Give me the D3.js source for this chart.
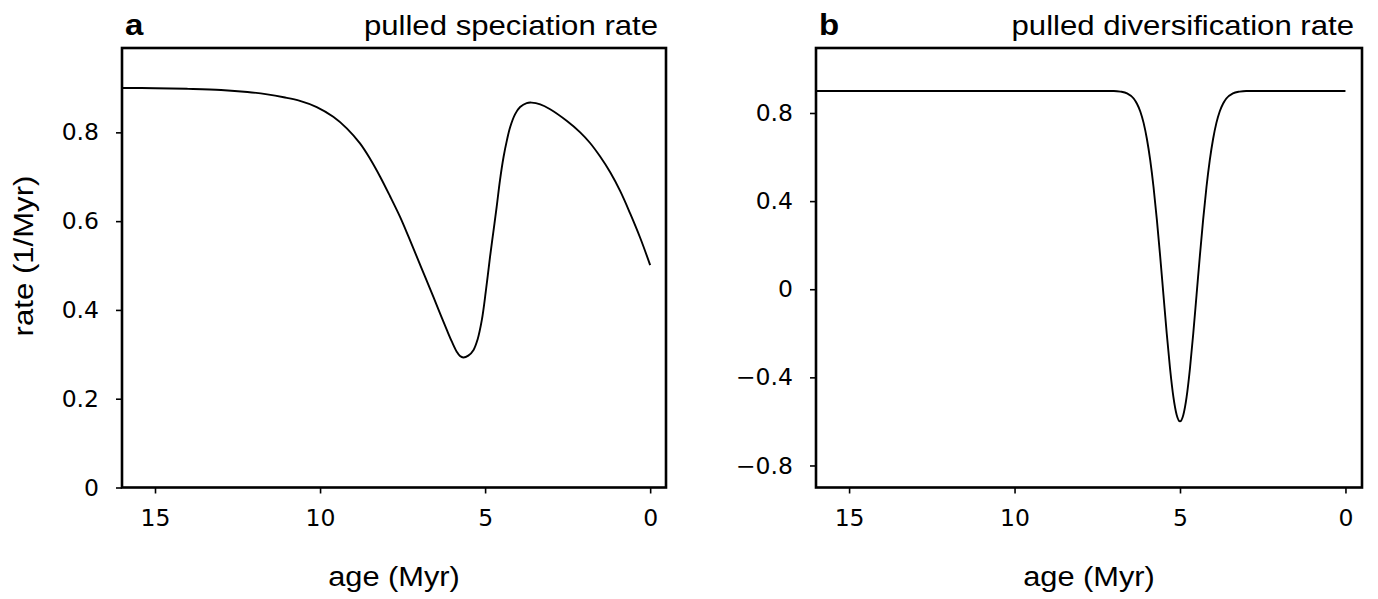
<!DOCTYPE html>
<html>
<head>
<meta charset="utf-8">
<script src="https://cdn.jsdelivr.net/npm/d3@7"></script>
<style>
  html, body { margin: 0; padding: 0; background: #fff; }
  svg { display: block; }
</style>
</head>
<body>
<svg id="chart" width="1378" height="599"></svg>
<script>
// ---------- data ----------
const xTicks = [15, 10, 5, 0];
const xTickLabels = ["15", "10", "5", "0"];

const yTicksA = [0, 0.2, 0.4, 0.6, 0.8];
const yTickLabelsA = ["0", "0.2", "0.4", "0.6", "0.8"];
const yTicksB = [-0.8, -0.4, 0, 0.4, 0.8];
const yTickLabelsB = ["\u22120.8", "\u22120.4", "0", "0.4", "0.8"];

// panel a: pulled speciation rate (age in Myr, rate in 1/Myr)
const ageA = [16, 15, 14, 13, 12.2, 11.6, 11.1, 10.61, 10.10, 9.60, 9.19, 8.79, 8.49, 8.18, 7.88, 7.58,
              7.32, 7.07, 6.82, 6.57, 6.36, 6.16, 6.01, 5.86, 5.76, 5.66, 5.51, 5.35, 5.23, 5.10, 4.98,
              4.85, 4.75, 4.65, 4.55, 4.44, 4.34, 4.24, 4.09, 3.94, 3.74, 3.59, 3.33, 3.03, 2.53, 2.12,
              1.82, 1.52, 1.21, 0.91, 0.61, 0.30, 0];
const rateA = [0.900, 0.8995, 0.898, 0.8955, 0.891, 0.8855, 0.879, 0.871, 0.857, 0.835, 0.809, 0.775,
               0.741, 0.700, 0.656, 0.610, 0.565, 0.520, 0.475, 0.430, 0.391, 0.355, 0.329, 0.306, 0.296,
               0.293, 0.297, 0.310, 0.333, 0.377, 0.441, 0.520, 0.576, 0.632, 0.692, 0.745, 0.782, 0.812,
               0.841, 0.857, 0.866, 0.867, 0.863, 0.852, 0.826, 0.800, 0.776, 0.746, 0.710, 0.668,
               0.618, 0.562, 0.501];

// panel b: pulled diversification rate
const ageB = [16, 8, 7.0, 6.8, 6.6, 6.4, 6.3, 6.2, 6.1, 6.0, 5.9, 5.8, 5.7, 5.6, 5.5, 5.4, 5.3, 5.2, 5.1,
              5.0, 4.9, 4.8, 4.7, 4.6, 4.5, 4.4, 4.3, 4.2, 4.1, 4.0, 3.9, 3.8, 3.7, 3.6, 3.4, 3.2, 3.0, 0];
const rateB = [0.900, 0.900, 0.900, 0.897, 0.889, 0.866, 0.842, 0.807, 0.755, 0.682, 0.586, 0.464, 0.317,
               0.151, -0.026, -0.202, -0.361, -0.489, -0.571, -0.600, -0.571, -0.489, -0.361, -0.202,
               -0.026, 0.151, 0.317, 0.464, 0.586, 0.682, 0.755, 0.807, 0.842, 0.866, 0.889, 0.897, 0.900, 0.900];

// ---------- drawing ----------
const svg = d3.select("#chart");
const TICK_FONT = "'DejaVu Sans', sans-serif";
const LABEL_FONT = "'Liberation Sans', Arial, sans-serif";

const panels = [
  { left: 122, right: 666, xDomain: [16, -0.48], yDomain: [0, 0.99],
    yTicks: yTicksA, yLabels: yTickLabelsA, ages: ageA, rates: rateA,
    curve: d3.curveCatmullRom.alpha(0.5),
    letter: "a", title: "pulled speciation rate", ylabel: "rate (1/Myr)" },
  { left: 816, right: 1362, xDomain: [16, -0.5], yDomain: [-0.9, 1.095],
    yTicks: yTicksB, yLabels: yTickLabelsB, ages: ageB, rates: rateB,
    curve: d3.curveMonotoneX,
    letter: "b", title: "pulled diversification rate", ylabel: null }
];
const plotTop = 48, plotBottom = 487.5;

function stretchedText(g, x, y, txt, opts) {
  return g.append("text")
    .attr("transform", `translate(${x},${y}) scale(1.1,1)`)
    .attr("font-family", opts.family || LABEL_FONT)
    .attr("font-size", opts.size)
    .attr("font-weight", opts.weight || "normal")
    .attr("text-anchor", opts.anchor || "start")
    .attr("fill", "#000")
    .text(txt);
}

panels.forEach(p => {
  const x = d3.scaleLinear().domain(p.xDomain).range([p.left, p.right]);
  const y = d3.scaleLinear().domain(p.yDomain).range([plotBottom, plotTop]);
  const g = svg.append("g");

  // x axis
  const xAxis = d3.axisBottom(x).tickValues(xTicks)
    .tickFormat((d, i) => xTickLabels[i]).tickSizeInner(6).tickSizeOuter(0).tickPadding(16);
  const gx = g.append("g").attr("transform", `translate(0,${plotBottom})`).call(xAxis);
  gx.select(".domain").remove();
  gx.selectAll(".tick line").attr("stroke", "#000").attr("stroke-width", 1.6);
  gx.selectAll(".tick text").attr("font-family", TICK_FONT).attr("font-size", 23.5)
    .attr("fill", "#000");

  // y axis
  const yAxis = d3.axisLeft(y).tickValues(p.yTicks)
    .tickFormat((d, i) => p.yLabels[i]).tickSizeInner(6).tickSizeOuter(0).tickPadding(17);
  const gy = g.append("g").attr("transform", `translate(${p.left},0)`).call(yAxis);
  gy.select(".domain").remove();
  gy.selectAll(".tick line").attr("stroke", "#000").attr("stroke-width", 1.6);
  gy.selectAll(".tick text").attr("font-family", TICK_FONT).attr("font-size", 23.5)
    .attr("fill", "#000");

  // curve
  const pts = p.ages.map((a, i) => [a, p.rates[i]]);
  const line = d3.line().x(d => x(d[0])).y(d => y(d[1])).curve(p.curve);
  g.append("path").datum(pts).attr("d", line)
    .attr("fill", "none").attr("stroke", "#000").attr("stroke-width", 1.9);

  // frame
  g.append("rect").attr("x", p.left).attr("y", plotTop)
    .attr("width", p.right - p.left).attr("height", plotBottom - plotTop)
    .attr("fill", "none").attr("stroke", "#000").attr("stroke-width", 2.6);

  // labels
  stretchedText(g, p.left + 3, 35, p.letter, { size: 30, weight: "bold" });
  stretchedText(g, p.right - 8, 35, p.title, { size: 28.3, anchor: "end" });
  stretchedText(g, (p.left + p.right) / 2, 586, "age (Myr)", { size: 28, anchor: "middle" });
  if (p.ylabel) {
    svg.append("text")
      .attr("transform", `translate(33,256) rotate(-90) scale(1.1,1)`)
      .attr("font-family", LABEL_FONT).attr("font-size", 28.3)
      .attr("text-anchor", "middle").attr("fill", "#000")
      .text(p.ylabel);
  }
});
</script>
</body>
</html>
